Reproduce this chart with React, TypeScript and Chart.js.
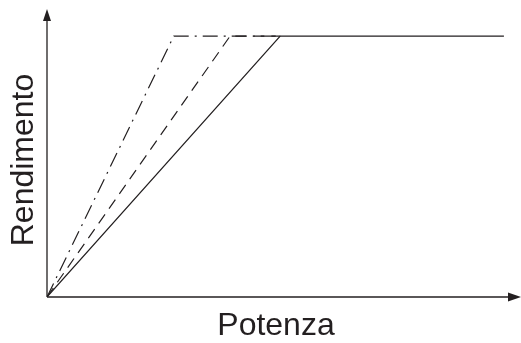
import React, { useEffect, useRef } from "react";
import { Chart, registerables } from "chart.js";

Chart.register(...registerables);

// Potenza (x, 0-100) and Rendimento (y, 0-100) break points of each curve
const solidX = [0, 49.3, 96.6];
const solidY = [0, 90.9, 90.9];
const dashedX = [0, 38.7, 49.3];
const dashedY = [0, 90.9, 90.9];
const dashDotX = [0, 26.8, 49.3];
const dashDotY = [0, 90.9, 90.9];

const xTitle = "Potenza";
const yTitle = "Rendimento";

const toPoints = (xs: number[], ys: number[]) => xs.map((x, i) => ({ x, y: ys[i] }));

const INK = "#231f20";
const FONT = "32px 'Liberation Sans', Arial, sans-serif";

const arrowAxes = {
  id: "arrowAxes",
  afterDraw(chart: any) {
    const { ctx, chartArea } = chart;
    const x0 = chartArea.left;
    const y0 = chartArea.bottom;
    ctx.save();
    ctx.strokeStyle = INK;
    ctx.fillStyle = INK;
    ctx.lineWidth = 1.3;
    // y axis
    ctx.beginPath();
    ctx.moveTo(x0, y0);
    ctx.lineTo(x0, chartArea.top + 8);
    ctx.stroke();
    ctx.beginPath();
    ctx.moveTo(x0, chartArea.top - 1);
    ctx.lineTo(x0 - 4, chartArea.top + 11);
    ctx.lineTo(x0 + 4, chartArea.top + 11);
    ctx.closePath();
    ctx.fill();
    // x axis
    ctx.beginPath();
    ctx.moveTo(x0, y0);
    ctx.lineTo(chartArea.right - 8, y0);
    ctx.stroke();
    ctx.beginPath();
    ctx.moveTo(chartArea.right + 1, y0);
    ctx.lineTo(chartArea.right - 12, y0 - 4.5);
    ctx.lineTo(chartArea.right - 12, y0 + 4.5);
    ctx.closePath();
    ctx.fill();
    // axis titles
    ctx.font = FONT;
    ctx.textAlign = "center";
    ctx.textBaseline = "alphabetic";
    ctx.fillText(xTitle, 276, 335);
    ctx.translate(33, 160);
    ctx.rotate(-Math.PI / 2);
    ctx.fillText(yTitle, 0, 0);
    ctx.restore();
  },
};

export default function App() {
  const ref = useRef<HTMLCanvasElement>(null);
  useEffect(() => {
    document.body.style.margin = "0";
    const line = (data: any, dash: number[]) => ({
      data,
      borderColor: INK,
      borderWidth: 1.2,
      borderDash: dash,
      pointRadius: 0,
      fill: false,
      tension: 0,
    });
    const chart = new Chart(ref.current!, {
      type: "line",
      data: {
        datasets: [
          line(toPoints(solidX, solidY), []),
          line(toPoints(dashedX, dashedY), [11, 7]),
          line(toPoints(dashDotX, dashDotY), [15, 6, 2, 6]),
        ],
      },
      options: {
        animation: false,
        responsive: false,
        maintainAspectRatio: false,
        layout: { padding: { left: 47, right: 1, top: 10, bottom: 46 } },
        plugins: { legend: { display: false }, tooltip: { enabled: false } },
        scales: {
          x: { type: "linear", min: 0, max: 100, display: false },
          y: { type: "linear", min: 0, max: 100, display: false },
        },
      },
      plugins: [arrowAxes],
    });
    return () => chart.destroy();
  }, []);
  return (
    <div style={{ width: 521, height: 343, background: "#fff" }}>
      <canvas ref={ref} width={521} height={343} style={{ width: 521, height: 343, display: "block" }} />
    </div>
  );
}
